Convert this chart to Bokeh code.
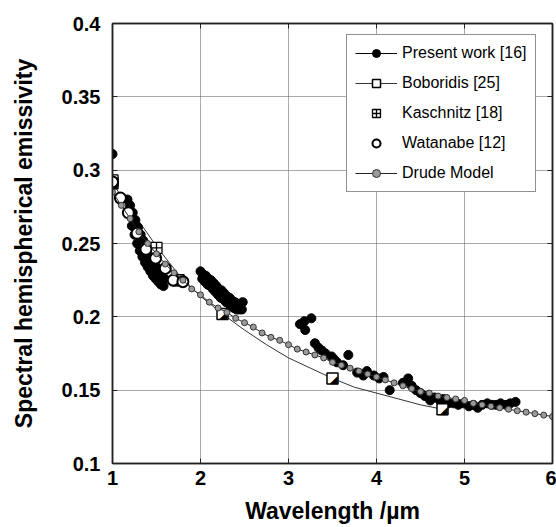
import numpy as np
from bokeh.plotting import figure
from bokeh.models import Range1d, LinearAxis, Legend, LegendItem, FixedTicker
from bokeh.core.properties import value
from bokeh.embed import file_html
from bokeh.resources import INLINE

# ---------------- data ----------------
x_ticks = [1, 2, 3, 4, 5, 6]
x_tick_labels = ["1", "2", "3", "4", "5", "6"]
y_ticks = [0.1, 0.15, 0.2, 0.25, 0.3, 0.35, 0.4]
y_tick_labels = ["0.1", "0.15", "0.2", "0.25", "0.3", "0.35", "0.4"]

# Present work [16]
present_x = [1.00,
             1.17, 1.20, 1.23, 1.26, 1.29, 1.32, 1.35, 1.38, 1.41, 1.44, 1.47, 1.50, 1.53, 1.56, 1.59,
             1.22, 1.25, 1.28, 1.31, 1.34, 1.37, 1.40, 1.43, 1.46, 1.49, 1.52, 1.55, 1.58,
             2.00, 2.03, 2.06, 2.09, 2.12, 2.15, 2.18, 2.21, 2.24, 2.27, 2.30, 2.33, 2.36, 2.39, 2.42, 2.45, 2.48,
             2.02, 2.05, 2.08, 2.11, 2.14, 2.17, 2.20, 2.23, 2.26, 2.29, 2.32, 2.35, 2.38, 2.41, 2.44, 2.47,
             3.13, 3.18, 3.26, 3.19, 3.30, 3.34, 3.38, 3.42, 3.49, 3.55, 3.52, 3.68, 3.62, 3.78, 3.85, 3.89,
             3.97, 4.03, 4.08, 4.15, 4.30, 4.36, 4.40, 4.45, 4.50, 4.55, 4.61, 4.66, 4.72, 4.76, 4.82, 4.88,
             4.93, 4.99, 5.05, 5.10, 5.15, 5.20, 5.26, 5.31, 5.36, 5.41, 5.47, 5.52, 5.58]
present_y = [0.311,
             0.280, 0.276, 0.271, 0.266, 0.261, 0.256, 0.252, 0.248, 0.244, 0.240, 0.237, 0.234, 0.231, 0.228, 0.226,
             0.262, 0.256, 0.250, 0.245, 0.241, 0.237, 0.234, 0.231, 0.228, 0.226, 0.224, 0.222, 0.221,
             0.231, 0.229, 0.228, 0.226, 0.225, 0.223, 0.221, 0.219, 0.218, 0.216, 0.214, 0.213, 0.211, 0.210, 0.209, 0.209, 0.210,
             0.226, 0.224, 0.222, 0.221, 0.219, 0.217, 0.215, 0.213, 0.212, 0.210, 0.209, 0.207, 0.206, 0.205, 0.205, 0.205,
             0.195, 0.197, 0.199, 0.191, 0.182, 0.179, 0.177, 0.175, 0.173, 0.169, 0.171, 0.174, 0.167, 0.162, 0.160, 0.163,
             0.160, 0.158, 0.159, 0.150, 0.155, 0.158, 0.153, 0.150, 0.148, 0.146, 0.143, 0.145, 0.143, 0.144, 0.141, 0.141,
             0.140, 0.141, 0.139, 0.140, 0.138, 0.140, 0.141, 0.140, 0.140, 0.141, 0.140, 0.141, 0.142]

# Boboridis [25]: markers and curve
boboridis_x = [1.00, 1.75, 2.25, 3.50, 4.75]
boboridis_y = [0.291, 0.225, 0.202, 0.158, 0.137]
boboridis_curve_x = [1.00, 1.50, 1.75, 2.00, 2.25, 2.50, 2.75, 3.00, 3.25, 3.50, 3.75, 4.00, 4.25, 4.50, 4.75]
boboridis_curve_y = [0.291, 0.248, 0.229, 0.214, 0.202, 0.191, 0.181, 0.172, 0.165, 0.158, 0.152, 0.148, 0.144, 0.140, 0.137]

# Kaschnitz [18]
kaschnitz_x = [1.00, 1.50]
kaschnitz_y = [0.293, 0.247]

# Watanabe [12]
watanabe_x = [1.00, 1.09, 1.18, 1.28, 1.38, 1.49, 1.60, 1.69, 1.80]
watanabe_y = [0.292, 0.281, 0.271, 0.257, 0.246, 0.240, 0.233, 0.225, 0.224]

# Drude Model
drude_x = [round(1.0 + 0.1 * i, 1) for i in range(51)]
drude_y = [0.285, 0.276, 0.267, 0.258, 0.250, 0.243, 0.236, 0.230, 0.225, 0.219,
           0.215, 0.210, 0.206, 0.203, 0.199, 0.196, 0.193, 0.189, 0.186, 0.184,
           0.181, 0.178, 0.176, 0.174, 0.172, 0.169, 0.167, 0.165, 0.163, 0.161,
           0.159, 0.157, 0.155, 0.153, 0.151, 0.149, 0.148, 0.146, 0.145, 0.144,
           0.143, 0.141, 0.140, 0.139, 0.138, 0.137, 0.136, 0.135, 0.134, 0.133,
           0.132]

FONT = "Liberation Sans"
X0, X1, Y0, Y1 = 1, 6, 0.1, 0.4
FRAME_W, FRAME_H = 440, 440

# ---------------- figure ----------------
p = figure(width=556, height=527, x_range=Range1d(X0, X1), y_range=Range1d(Y0, Y1),
           output_backend="svg", toolbar_location=None,
           min_border_left=112, min_border_right=4, min_border_top=23, min_border_bottom=64,
           x_axis_label="Wavelength /\u00b5m", y_axis_label="Spectral hemispherical emissivity")
p.background_fill_color = "white"
p.border_fill_color = "white"
p.outline_line_color = "#222222"
p.outline_line_width = 1.5

for ax in (p.xaxis[0], p.yaxis[0]):
    ax.major_label_text_font = FONT
    ax.major_label_text_font_style = "bold"
    ax.major_label_text_font_size = "20px"
    ax.major_label_text_color = "black"
    ax.axis_label_text_font = FONT
    ax.axis_label_text_font_style = "bold"
    ax.axis_label_text_font_size = "23px"
    ax.axis_label_text_color = "black"
    ax.axis_line_color = "#222222"
    ax.axis_line_width = 1.5
    ax.major_tick_in = 5
    ax.major_tick_out = 0
    ax.major_tick_line_color = "#222222"
    ax.minor_tick_line_color = None

p.xaxis[0].ticker = FixedTicker(ticks=x_ticks)
p.yaxis[0].ticker = FixedTicker(ticks=y_ticks)
p.xaxis[0].major_label_overrides = {t: s for t, s in zip(x_ticks, x_tick_labels)}
p.yaxis[0].major_label_overrides = {t: s for t, s in zip(y_ticks, y_tick_labels)}
p.xaxis[0].major_label_standoff = 7
p.xaxis[0].axis_label_standoff = 10
p.yaxis[0].major_label_standoff = 12
p.yaxis[0].axis_label_standoff = 22

for loc, tick in (("right", y_ticks), ("above", x_ticks)):
    ax2 = LinearAxis(ticker=FixedTicker(ticks=tick))
    ax2.major_label_text_color = None
    ax2.major_label_text_font_size = "1px"
    ax2.major_label_standoff = 0
    ax2.major_tick_in = 5
    ax2.major_tick_out = 0
    ax2.major_tick_line_color = "#222222"
    ax2.minor_tick_line_color = None
    ax2.axis_line_color = "#222222"
    ax2.axis_line_width = 1.5
    p.add_layout(ax2, loc)

p.xgrid.ticker = FixedTicker(ticks=x_ticks)
p.ygrid.ticker = FixedTicker(ticks=y_ticks)
for g in (p.xgrid[0], p.ygrid[0]):
    g.grid_line_color = "#555555"
    g.grid_line_dash = "1 1"
    g.grid_line_width = 1

# ---------------- glyphs ----------------
bob_line = p.line(boboridis_curve_x, boboridis_curve_y, line_color="#333333", line_width=1)

pw = p.scatter(present_x, present_y, marker="circle", size=9, fill_color="black", line_color="black")
pw_leg_line = p.line([np.nan], [np.nan], line_color="black", line_width=1)

bob_sq = p.scatter(boboridis_x, boboridis_y, marker="square", size=11, fill_color="white",
                   line_color="black", line_width=1.5)
bob_tri = p.text(boboridis_x, boboridis_y, text=["\u25e2"] * len(boboridis_x),
                 text_font=value("DejaVu Sans"), text_font_size="11px",
                 text_align="center", text_baseline="middle", text_color="black",
                 x_offset=1, y_offset=1)

kas = p.scatter(kaschnitz_x, kaschnitz_y, marker="square_cross", size=11, fill_color="white",
                line_color="black", line_width=1.3)

wat = p.scatter(watanabe_x, watanabe_y, marker="circle", size=11, fill_color="white",
                line_color="black", line_width=2)

drude_line = p.line(drude_x, drude_y, line_color="#222222", line_width=1)
drude_pts = p.scatter(drude_x, drude_y, marker="circle", size=6, fill_color="#9a9a9a",
                      line_color="#333333", line_width=1)

LEG_LEFT, LEG_BOTTOM, LEG_PAD, GLYPH_W, GLYPH_H, SPACING = 234, 271, 8, 42, 20, 10
legend = Legend(items=[
    LegendItem(label="Present work [16]", renderers=[pw_leg_line, pw]),
    LegendItem(label="Boboridis [25]", renderers=[bob_line, bob_sq]),
    LegendItem(label="Kaschnitz [18]", renderers=[kas]),
    LegendItem(label="Watanabe [12]", renderers=[wat]),
    LegendItem(label="Drude Model", renderers=[drude_line, drude_pts]),
], location=(LEG_LEFT, LEG_BOTTOM))
legend.margin = 0
legend.padding = LEG_PAD
legend.spacing = SPACING
legend.glyph_width = GLYPH_W
legend.glyph_height = GLYPH_H
legend.label_height = GLYPH_H
legend.label_standoff = 5
legend.label_text_font = FONT
legend.label_text_font_size = "16px"
legend.label_text_color = "black"
legend.border_line_color = "#222222"
legend.border_line_width = 1.5
legend.background_fill_color = "white"
legend.background_fill_alpha = 1.0
p.add_layout(legend, "center")

# half-black fill of the Boboridis legend symbol (placed at the 2nd legend glyph, drawn above the legend)
n_items = 5
leg_height = 2 * LEG_PAD + n_items * GLYPH_H + (n_items - 1) * SPACING
sx = LEG_LEFT + LEG_PAD + GLYPH_W / 2 + 1
sy_from_bottom = LEG_BOTTOM + leg_height - LEG_PAD - GLYPH_H - SPACING - GLYPH_H / 2 - 1
p.text(x=[X0 + sx / FRAME_W * (X1 - X0)], y=[Y0 + sy_from_bottom / FRAME_H * (Y1 - Y0)],
       text=["\u25e2"], text_font=value("DejaVu Sans"), text_font_size="9px",
       text_align="center", text_baseline="middle", text_color="black", level="overlay")

open("out.html", "w").write(file_html(p, INLINE))
